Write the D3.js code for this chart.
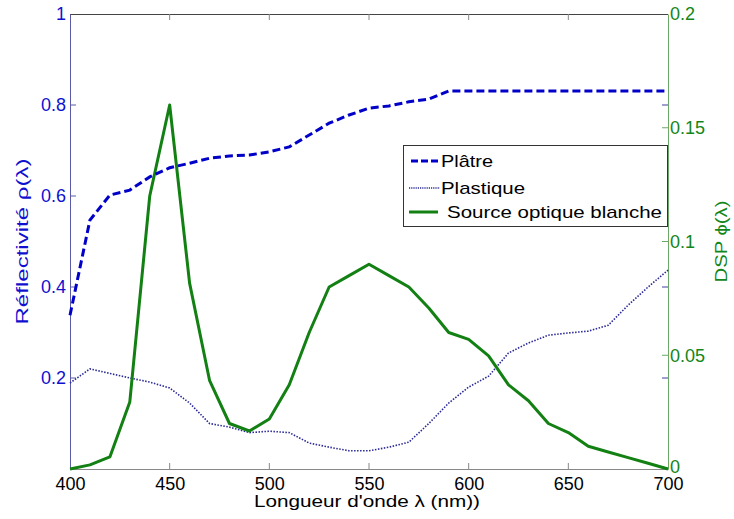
<!DOCTYPE html>
<html><head><meta charset="utf-8">
<script src="https://cdn.jsdelivr.net/npm/d3@7/dist/d3.min.js"></script>
<style>body{margin:0;background:#fff}svg{display:block}text{font-family:"Liberation Sans",Arial,sans-serif}</style>
</head><body><svg id="c" width="734" height="519"></svg>
<script>
const wavelengths = [400,410,420,430,440,450,460,470,480,490,500,510,520,530,540,550,560,570,580,590,600,610,620,630,640,650,660,670,680,690,700];
const platre =    [0.338,0.547,0.602,0.613,0.642,0.662,0.672,0.683,0.688,0.690,0.697,0.708,0.734,0.760,0.778,0.793,0.798,0.807,0.813,0.831,0.831,0.831,0.831,0.831,0.831,0.831,0.831,0.831,0.831,0.831,0.831];
const plastique = [0.189,0.220,0.210,0.200,0.191,0.178,0.145,0.100,0.092,0.080,0.083,0.080,0.057,0.048,0.040,0.040,0.048,0.059,0.100,0.145,0.180,0.204,0.255,0.277,0.294,0.299,0.303,0.316,0.360,0.400,0.437];
const source =    [0,0.0018,0.0053,0.0295,0.120,0.160,0.0817,0.039,0.020,0.0167,0.022,0.037,0.060,0.080,0.085,0.090,0.085,0.080,0.0708,0.060,0.057,0.0497,0.037,0.030,0.020,0.016,0.010,0.0075,0.005,0.0025,0];
const xTicks = [400,450,500,550,600,650,700];
const yLeftTicks = [0.2,0.4,0.6,0.8,1];
const yRightTicks = [0,0.05,0.1,0.15,0.2];
const legendLabels = ["Plâtre","Plastique","Source optique blanche"];

const svg = d3.select("#c");
const L=70,R=668,T=14,B=469;
const x = d3.scaleLinear().domain([400,700]).range([L,R]);
const yL = d3.scaleLinear().domain([0,1]).range([B,T]);
const yR = d3.scaleLinear().domain([0,0.2]).range([B,T]);

const blue="#0000c8", navy="#2a2a96", green="#138013", lblBlue="#1010d0", lblGreen="#12861a";
const FS=18;

// frame top
svg.append("line").attr("x1",L).attr("x2",R).attr("y1",T+0.5).attr("y2",T+0.5).attr("stroke","#444").attr("stroke-width",1);
// x axis bottom
const gx = svg.append("g").attr("transform",`translate(0,${B})`)
  .call(d3.axisBottom(x).tickValues(xTicks).tickSize(0).tickPadding(8).tickFormat(d3.format("d")));
gx.select(".domain").attr("stroke","#888");
gx.selectAll("text").attr("font-size",FS).attr("fill","#000");
xTicks.slice(1,-1).forEach(t=>{
  svg.append("line").attr("x1",x(t)).attr("x2",x(t)).attr("y1",B).attr("y2",B-6).attr("stroke","#888");
  svg.append("line").attr("x1",x(t)).attr("x2",x(t)).attr("y1",T).attr("y2",T+6).attr("stroke","#888");
});

// left axis
const gl = svg.append("g").attr("transform",`translate(${L},0)`)
  .call(d3.axisLeft(yL).tickValues(yLeftTicks).tickSize(0).tickPadding(4).tickFormat(d=>d===1?"1":d3.format(".1f")(d)));
gl.select(".domain").attr("stroke","#5a5aa8");
gl.selectAll("text").attr("font-size",FS).attr("fill",lblBlue);
yLeftTicks.slice(0,-1).forEach(t=>{
  svg.append("line").attr("x1",L).attr("x2",L+6).attr("y1",yL(t)).attr("y2",yL(t)).attr("stroke","#5a5aa8");
  svg.append("line").attr("x1",R).attr("x2",R-6).attr("y1",yL(t)).attr("y2",yL(t)).attr("stroke","#4040a0");
});

// right axis
const gr = svg.append("g").attr("transform",`translate(${R},0)`)
  .call(d3.axisRight(yR).tickValues(yRightTicks).tickSize(0).tickPadding(2).tickFormat(d=>d===0?"0":String(d)));
gr.select(".domain").attr("stroke","#6aa86a");
gr.selectAll("text").attr("font-size",FS).attr("fill",lblGreen);
gr.selectAll(".tick").filter(d=>d===0).select("text").attr("dy","0.22em");
yRightTicks.slice(1,-1).forEach(t=>{
  svg.append("line").attr("x1",R).attr("x2",R-6).attr("y1",yR(t)).attr("y2",yR(t)).attr("stroke","#6aa86a");
});

// axis titles
svg.append("text").attr("transform",`translate(28,${(T+B)/2}) rotate(-90)`).attr("text-anchor","middle")
  .attr("font-size",17).attr("fill",lblBlue).attr("textLength",166).attr("lengthAdjust","spacingAndGlyphs").text("Réflectivité ρ(λ)");
svg.append("text").attr("transform",`translate(727,${(T+B)/2}) rotate(-90)`).attr("text-anchor","middle")
  .attr("font-size",17).attr("fill",lblGreen).attr("textLength",82).attr("lengthAdjust","spacingAndGlyphs").text("DSP ϕ(λ)");
svg.append("text").attr("x",(L+R)/2-2).attr("y",507).attr("text-anchor","middle")
  .attr("font-size",17).attr("fill","#000").attr("textLength",226).attr("lengthAdjust","spacingAndGlyphs").text("Longueur d'onde λ (nm))");

// lines
const lineL = d3.line().x((d,i)=>x(wavelengths[i])).y(d=>yL(d));
const lineR = d3.line().x((d,i)=>x(wavelengths[i])).y(d=>yR(d));
svg.append("path").attr("d",lineL(plastique)).attr("fill","none").attr("stroke",navy).attr("stroke-width",1.6).attr("stroke-dasharray","1.5,1.5");
svg.append("path").attr("d",lineR(source)).attr("fill","none").attr("stroke",green).attr("stroke-width",3).attr("stroke-linejoin","round");
svg.append("path").attr("d",lineL(platre)).attr("fill","none").attr("stroke",blue).attr("stroke-width",3).attr("stroke-dasharray","8,4");

// legend
const lg = svg.append("g");
lg.append("rect").attr("x",403.5).attr("y",145.5).attr("width",264).attr("height",81).attr("fill","#fff").attr("stroke","#333").attr("stroke-width",1);
const ly=[161,188,212];
const lx=[441,441,447], lw=[52,84,215];
lg.append("line").attr("x1",411).attr("x2",440).attr("y1",ly[0]).attr("y2",ly[0]).attr("stroke",blue).attr("stroke-width",3).attr("stroke-dasharray","7,3");
lg.append("line").attr("x1",409).attr("x2",440).attr("y1",ly[1]).attr("y2",ly[1]).attr("stroke",navy).attr("stroke-width",1.4).attr("stroke-dasharray","1.2,1");
lg.append("line").attr("x1",409).attr("x2",438).attr("y1",ly[2]).attr("y2",ly[2]).attr("stroke",green).attr("stroke-width",3);
legendLabels.forEach((t,i)=>{
  lg.append("text").attr("x",lx[i]).attr("y",ly[i]+6).attr("font-size",17).attr("fill","#000")
    .attr("textLength",lw[i]).attr("lengthAdjust","spacingAndGlyphs").text(t);
});
</script></body></html>
